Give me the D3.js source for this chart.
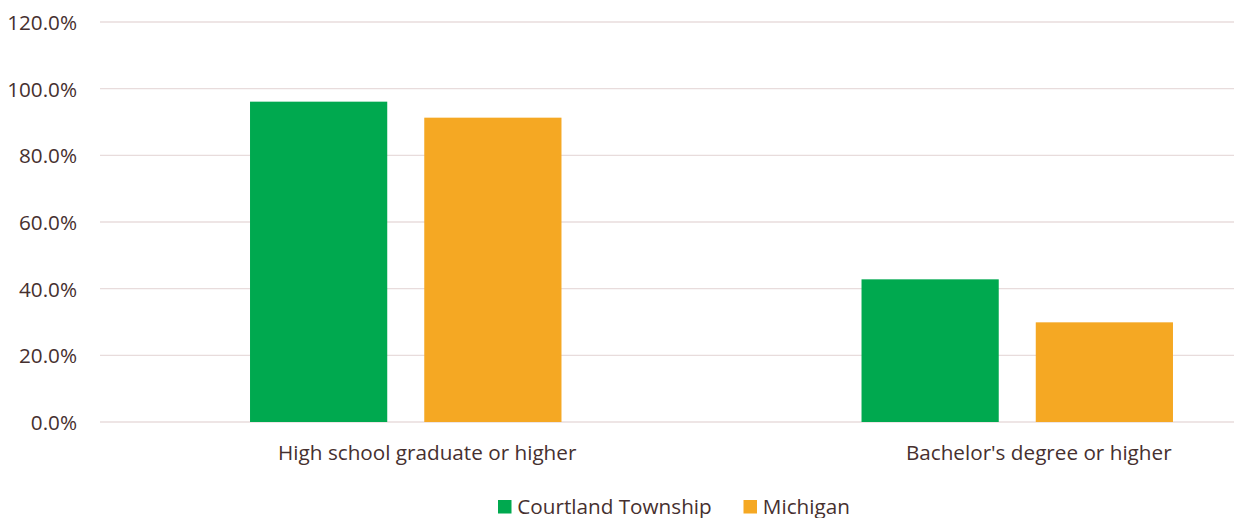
<!DOCTYPE html>
<html><head><meta charset="utf-8">
<script src="https://cdn.jsdelivr.net/npm/d3@7"></script>
<style>body{margin:0;background:#fff}svg{display:block}</style>
</head><body>
<script>
const categories = ["High school graduate or higher", "Bachelor's degree or higher"];
const seriesNames = ["Courtland Township", "Michigan"];
const courtland = [96.1, 42.8];
const michigan = [91.3, 29.9];
const yTicks = [0, 20, 40, 60, 80, 100, 120];
const colors = ["#00a94f", "#f5a823"];

const W = 1234, H = 518;
const font = "'Open Sans', sans-serif";
const fs = 20.7;
const textColor = "#46302f";
const svg = d3.select("body").append("svg").attr("width", W).attr("height", H);

const y = d3.scaleLinear().domain([0, 120]).range([422, 22]);
const x0 = d3.scaleBand().domain(categories).range([100, 1323]).paddingInner(0).paddingOuter(0);
const x1 = d3.scaleBand().domain(seriesNames).range([0, x0.bandwidth()]).paddingInner(0.2125).paddingOuter(0.861);

// gridlines
svg.append("g").selectAll("line").data(yTicks).join("line")
  .attr("x1", 100).attr("x2", W)
  .attr("y1", d => y(d)).attr("y2", d => y(d))
  .attr("stroke", "#e8dcdc").attr("stroke-width", 1.3);

// y labels
svg.append("g").selectAll("text").data(yTicks).join("text")
  .attr("x", 77).attr("y", d => y(d) + 0.6).attr("dy", "0.35em")
  .attr("text-anchor", "end")
  .attr("font-family", font).attr("font-size", fs).attr("fill", textColor)
  .text(d => d.toFixed(1) + "%");

// bars
const data = categories.map((c, i) => ({cat: c, vals: [courtland[i], michigan[i]]}));
const g = svg.append("g").selectAll("g").data(data).join("g")
  .attr("transform", d => `translate(${x0(d.cat)},0)`);
g.selectAll("rect").data(d => d.vals.map((v, j) => ({s: seriesNames[j], v, j}))).join("rect")
  .attr("x", d => x1(d.s)).attr("width", x1.bandwidth())
  .attr("y", d => y(d.v)).attr("height", d => y(0) - y(d.v))
  .attr("fill", d => colors[d.j]);

// category labels
svg.append("g").selectAll("text").data(categories).join("text")
  .attr("x", d => x0(d) + x0.bandwidth() / 2 + 21.5).attr("y", 452.7).attr("dy", "0.35em")
  .attr("text-anchor", "middle")
  .attr("font-family", font).attr("font-size", fs).attr("fill", textColor)
  .text(d => d);

// legend
const legendX = [498, 743.5];
const lg = svg.append("g").selectAll("g").data(seriesNames).join("g")
  .attr("transform", (d, i) => `translate(${legendX[i]},500)`);
lg.append("rect").attr("width", 13.5).attr("height", 13.5).attr("fill", (d, i) => colors[i]);
lg.append("text").attr("x", 19.3).attr("y", 6.7).attr("dy", "0.35em")
  .attr("font-family", font).attr("font-size", fs).attr("fill", textColor)
  .text(d => d);
</script>
</body></html>
